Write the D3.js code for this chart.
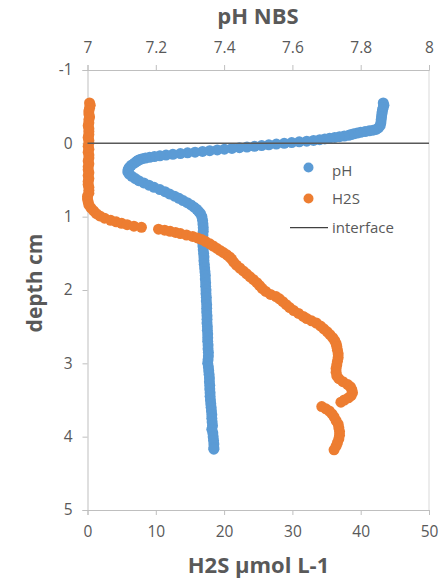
<!DOCTYPE html>
<html>
<head>
<meta charset="utf-8">
<script src="https://cdn.jsdelivr.net/npm/d3@7"></script>
<style>
  body { margin: 0; background: #fff; }
  text { font-family: "Open Sans", sans-serif; fill: #595959; }
  .axis path, .axis line { stroke: #BFBFBF; }
</style>
</head>
<body>
<div id="chart"></div>
<script>
// pH profile (depth cm, pH NBS)
const phDepth = [
  -0.55, -0.52, -0.49, -0.46, -0.43, -0.40, -0.36, -0.32, -0.28, -0.24, -0.21,
  -0.19, -0.18, -0.17, -0.16, -0.15, -0.14, -0.13, -0.12, -0.11, -0.10,
  -0.09, -0.08, -0.07, -0.06, -0.05, -0.04, -0.03, -0.02, -0.01, 0.00,
  0.01, 0.02, 0.03, 0.04, 0.05, 0.06, 0.07, 0.08, 0.09, 0.10,
  0.11, 0.12, 0.13, 0.14, 0.15, 0.16, 0.17, 0.18, 0.19, 0.20,
  0.21, 0.22, 0.23, 0.24, 0.25,
  0.27, 0.30, 0.33, 0.36, 0.39, 0.42, 0.45, 0.48, 0.51, 0.54, 0.57, 0.60,
  0.63, 0.66, 0.69, 0.72, 0.75, 0.78, 0.81, 0.84, 0.87, 0.90, 0.93, 0.96, 1.00, 1.05,
  1.10, 1.15, 1.20, 1.25, 1.30, 1.35, 1.40, 1.45, 1.50, 1.55, 1.60, 1.65, 1.70,
  1.75, 1.80, 1.85, 1.90, 1.95, 2.00, 2.05, 2.10, 2.15, 2.20, 2.25, 2.30, 2.35,
  2.40, 2.45, 2.50, 2.55, 2.60, 2.65, 2.70, 2.75, 2.80, 2.85, 2.90, 2.95, 3.00,
  3.05, 3.10, 3.15, 3.20, 3.25, 3.30, 3.35, 3.40, 3.45, 3.50, 3.55, 3.60, 3.65,
  3.70, 3.75, 3.80, 3.85, 3.90, 3.95, 4.00, 4.05, 4.10, 4.15, 4.17
];
const phValue = [
  7.866, 7.868, 7.866, 7.864, 7.863, 7.862, 7.861, 7.860, 7.859, 7.857, 7.852,
  7.845, 7.836, 7.825, 7.813, 7.800, 7.790, 7.780, 7.772, 7.765, 7.752,
  7.738, 7.724, 7.709, 7.695, 7.680, 7.662, 7.642, 7.620, 7.598, 7.576,
  7.553, 7.531, 7.510, 7.489, 7.467, 7.445, 7.423, 7.401, 7.380, 7.358,
  7.337, 7.315, 7.293, 7.272, 7.250, 7.230, 7.212, 7.196, 7.182, 7.170,
  7.161, 7.154, 7.149, 7.146, 7.143,
  7.137, 7.128, 7.122, 7.119, 7.118, 7.122, 7.130, 7.140, 7.150, 7.165, 7.180, 7.195,
  7.212, 7.227, 7.240, 7.255, 7.268, 7.280, 7.292, 7.303, 7.312, 7.320, 7.326, 7.331, 7.335, 7.337,
  7.338, 7.339, 7.339, 7.338, 7.337, 7.337, 7.338, 7.339, 7.340, 7.341, 7.341, 7.342, 7.343,
  7.344, 7.345, 7.345, 7.346, 7.346, 7.347, 7.347, 7.348, 7.348, 7.349, 7.349, 7.349, 7.350,
  7.350, 7.350, 7.351, 7.351, 7.352, 7.352, 7.352, 7.353, 7.353, 7.354, 7.354, 7.353, 7.352,
  7.354, 7.355, 7.356, 7.357, 7.357, 7.358, 7.358, 7.359, 7.359, 7.360, 7.361, 7.362, 7.363,
  7.364, 7.364, 7.365, 7.366, 7.364, 7.367, 7.368, 7.369, 7.370, 7.370, 7.370
];

// H2S profile (depth cm, umol L-1)
const h2sDepth = [
  -0.55, -0.52, -0.48, -0.44, -0.40, -0.36, -0.32, -0.28, -0.24, -0.20, -0.16,
  -0.12, -0.08, -0.04, 0.00, 0.04, 0.08, 0.12, 0.16, 0.20, 0.24, 0.28, 0.32,
  0.36, 0.40, 0.44, 0.48, 0.52, 0.56, 0.60, 0.64,
  0.68, 0.72, 0.76, 0.80, 0.84, 0.88, 0.92, 0.96, 0.99, 1.02, 1.05, 1.07, 1.09,
  1.11, 1.13, 1.145, 1.17, 1.185, 1.20, 1.215, 1.23, 1.25, 1.27, 1.29, 1.31,
  1.34, 1.37, 1.40, 1.43, 1.46, 1.49, 1.52, 1.55, 1.58, 1.62, 1.66, 1.70, 1.74,
  1.78, 1.82, 1.86, 1.90, 1.94, 1.98, 2.02, 2.06, 2.09, 2.12, 2.16, 2.20, 2.24,
  2.28, 2.32, 2.36, 2.39, 2.42, 2.45, 2.49, 2.53, 2.57, 2.61, 2.65, 2.69, 2.73,
  2.77, 2.82, 2.87, 2.92, 2.97, 3.02, 3.07, 3.12, 3.17, 3.21, 3.25, 3.29, 3.32,
  3.36, 3.40, 3.44, 3.47, 3.50, 3.53, 3.59, 3.62, 3.65, 3.69, 3.73, 3.78, 3.83,
  3.88, 3.93, 3.98, 4.03, 4.08, 4.13, 4.18
];
const h2sValue = [
  0.3, 0.4, 0.3, 0.2, 0.2, 0.3, 0.2, 0.2, 0.1, 0.2, 0.2,
  0.2, 0.1, 0.2, 0.2, 0.1, 0.2, 0.1, 0.2, 0.2, 0.1, 0.2, 0.1,
  0.1, 0.2, 0.1, 0.2, 0.1, 0.1, 0.2, 0.2,
  0.2, 0.0, 0.0, 0.1, 0.2, 0.5, 0.9, 1.3, 1.8, 2.5, 3.4, 4.2, 5.0,
  5.8, 6.8, 7.9, 10.4, 11.3, 12.1, 12.9, 13.6, 14.5, 15.4, 16.1, 16.7,
  17.3, 17.9, 18.4, 18.9, 19.4, 19.9, 20.4, 20.8, 21.1, 21.4, 21.8, 22.3, 22.8,
  23.3, 23.8, 24.3, 24.8, 25.2, 25.6, 26.1, 26.8, 27.6, 28.1, 28.6, 29.1, 29.6,
  30.2, 30.9, 31.6, 32.1, 32.8, 33.5, 34.1, 34.6, 35.1, 35.5, 35.9, 36.2, 36.4,
  36.5, 36.6, 36.7, 36.7, 36.6, 36.5, 36.4, 36.4, 36.5, 36.8, 37.4, 38.1, 38.5,
  38.7, 38.8, 38.6, 38.2, 37.6, 37.1, 34.3, 34.9, 35.4, 35.8, 36.1, 36.4, 36.7,
  36.8, 36.9, 36.9, 36.8, 36.6, 36.4, 36.1
];

// interface line at depth 0, across the H2S axis
const interfaceDepth = [0, 0];
const interfaceH2S = [0, 50];

const h2sTicks = [0, 10, 20, 30, 40, 50];
const phTicks = [7, 7.2, 7.4, 7.6, 7.8, 8];
const depthTicks = [-1, 0, 1, 2, 3, 4, 5];

const width = 442, height = 580;
const margin = {top: 70, right: 13, bottom: 70, left: 87.5};
const r = 5.5;

const svg = d3.select("#chart").append("svg")
  .attr("width", width)
  .attr("height", height);

const xH2S = d3.scaleLinear().domain([0, 50]).range([margin.left, width - margin.right]);
const xPh = d3.scaleLinear().domain([7, 8]).range([margin.left, width - margin.right]);
const y = d3.scaleLinear().domain([-1, 5]).range([margin.top, height - margin.bottom]);

// right frame line
svg.append("line")
  .attr("x1", xH2S(50)).attr("x2", xH2S(50))
  .attr("y1", y(-1)).attr("y2", y(5))
  .attr("stroke", "#D9D9D9");

// axes
const fmt = d => String(d);
svg.append("g")
  .attr("class", "axis")
  .attr("transform", `translate(0,${y(-1)})`)
  .call(d3.axisTop(xPh).tickValues(phTicks).tickFormat(fmt).tickSize(5).tickPadding(12));

svg.append("g")
  .attr("class", "axis")
  .attr("transform", `translate(0,${y(5)})`)
  .call(d3.axisBottom(xH2S).tickValues(h2sTicks).tickFormat(fmt).tickSize(5).tickPadding(11));

svg.append("g")
  .attr("class", "axis")
  .attr("transform", `translate(${margin.left},0)`)
  .call(d3.axisLeft(y).tickValues(depthTicks).tickFormat(fmt).tickSize(5).tickPadding(10));

svg.selectAll(".axis text")
  .attr("font-size", "15.5px")
  .style("font-family", "'Open Sans', sans-serif")
  .attr("fill", "#595959");

// points
const phData = phDepth.map((d, i) => ({depth: d, v: phValue[i]}));
const h2sData = h2sDepth.map((d, i) => ({depth: d, v: h2sValue[i]}));

svg.append("g").selectAll("circle")
  .data(phData)
  .enter().append("circle")
  .attr("cx", d => xPh(d.v))
  .attr("cy", d => y(d.depth))
  .attr("r", r)
  .attr("fill", "#5B9BD5");

svg.append("g").selectAll("circle")
  .data(h2sData)
  .enter().append("circle")
  .attr("cx", d => xH2S(d.v))
  .attr("cy", d => y(d.depth))
  .attr("r", r)
  .attr("fill", "#ED7D31");

svg.append("line")
  .attr("x1", xH2S(interfaceH2S[0])).attr("x2", xH2S(interfaceH2S[1]))
  .attr("y1", y(interfaceDepth[0])).attr("y2", y(interfaceDepth[1]))
  .attr("stroke", "#595959")
  .attr("stroke-width", 1.5);

// axis titles
svg.append("text")
  .attr("x", 258).attr("y", 24)
  .attr("text-anchor", "middle")
  .attr("font-size", "22px").attr("font-weight", "bold")
  .text("pH NBS");

svg.append("text")
  .attr("x", 258.5).attr("y", 573)
  .attr("text-anchor", "middle")
  .attr("font-size", "22px").attr("font-weight", "bold")
  .text("H2S µmol L-1");

svg.append("text")
  .attr("transform", "translate(42,283) rotate(-90)")
  .attr("text-anchor", "middle")
  .attr("font-size", "21px").attr("font-weight", "bold")
  .text("depth cm");

// legend
const legend = svg.append("g");
legend.append("circle").attr("cx", 308.5).attr("cy", 167.5).attr("r", 5).attr("fill", "#5B9BD5");
legend.append("text").attr("x", 332).attr("y", 175.5).attr("font-size", "15px").text("pH");
legend.append("circle").attr("cx", 308.5).attr("cy", 198.5).attr("r", 5).attr("fill", "#ED7D31");
legend.append("text").attr("x", 332).attr("y", 203.5).attr("font-size", "15px").text("H2S");
legend.append("line").attr("x1", 290).attr("x2", 328).attr("y1", 227.5).attr("y2", 227.5)
  .attr("stroke", "#404040").attr("stroke-width", 1.25);
legend.append("text").attr("x", 332).attr("y", 232.5).attr("font-size", "15px").text("interface");
</script>
</body>
</html>
